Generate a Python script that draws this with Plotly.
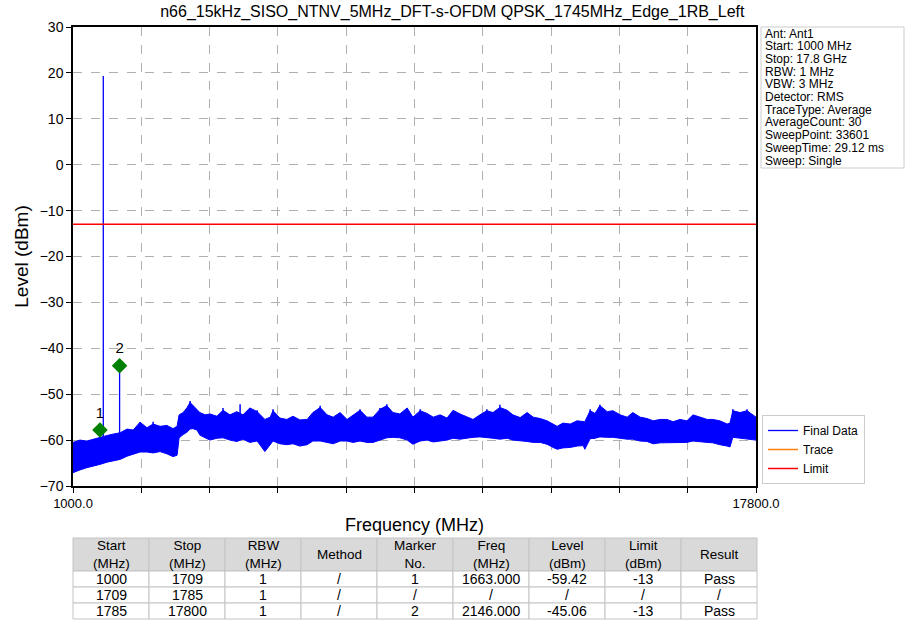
import plotly.graph_objects as go

# ---------------- data ----------------
TITLE = "n66_15kHz_SISO_NTNV_5MHz_DFT-s-OFDM QPSK_1745MHz_Edge_1RB_Left"

# noise floor envelope of the Final Data trace (MHz, dBm)
band_freq = [1000, 1170, 1340, 1490, 1660, 1840, 1980, 2160, 2330, 2480, 2650, 2820, 2970,
             3140, 3310, 3460, 3560, 3610, 3710, 3800, 3880, 3950, 4050, 4120, 4250, 4370,
             4540, 4690, 4860, 5030, 5180, 5350, 5530, 5720, 5850, 5920, 6090, 6260, 6410,
             6580, 6760, 6900, 7080, 7250, 7400, 7570, 7740, 7890, 8060, 8230, 8380, 8550,
             8720, 8870, 9040, 9220, 9360, 9540, 9710, 9860, 10030, 10200, 10350, 10520,
             10690, 10840, 11010, 11180, 11330, 11500, 11680, 11820, 12000, 12170, 12320,
             12490, 12660, 12810, 12910, 13050, 13230, 13400, 13550, 13590, 13720, 13840,
             13960, 14140, 14280, 14460, 14630, 14770, 14950, 15120, 15270, 15440, 15610,
             15760, 15930, 16100, 16250, 16420, 16600, 16740, 16910, 17090, 17160, 17230,
             17410, 17580, 17800]
band_upper = [-60.5, -60.0, -60.2, -59.8, -59.5, -59.0, -58.7, -58.4, -57.6, -57.8, -56.1,
              -57.3, -56.5, -57.0, -56.8, -57.5, -57.0, -54.5, -54.0, -53.0, -51.8, -52.5,
              -53.5, -54.0, -54.5, -54.3, -54.8, -53.5, -54.5, -53.8, -54.5, -53.0, -53.8,
              -55.5, -55.0, -53.6, -55.2, -55.5, -54.8, -55.6, -55.5, -54.0, -52.9, -54.5,
              -55.0, -54.0, -55.5, -54.5, -53.5, -55.0, -55.0, -53.3, -52.5, -54.0, -54.3,
              -53.0, -55.0, -53.6, -54.2, -55.0, -54.5, -55.2, -53.5, -54.3, -55.0, -55.5,
              -54.5, -53.6, -54.0, -52.9, -53.5, -54.5, -55.1, -54.0, -55.0, -55.3, -55.8,
              -56.5, -57.0, -56.3, -56.5, -55.8, -56.0, -56.0, -53.6, -54.2, -52.5, -53.8,
              -53.6, -54.5, -55.0, -54.0, -55.0, -55.3, -55.8, -55.5, -55.5, -56.0, -55.5,
              -55.8, -54.5, -55.0, -55.5, -55.5, -55.8, -56.5, -56.3, -53.6, -54.0, -53.6,
              -55.0]
band_lower = [-67.1, -66.5, -66.0, -65.6, -65.3, -64.8, -64.5, -64.2, -63.5, -63.0, -62.6,
              -62.6, -62.8, -62.5, -63.0, -63.6, -63.3, -59.5, -58.8, -58.3, -57.6, -57.5,
              -57.8, -58.9, -59.5, -60.0, -59.6, -59.5, -60.0, -60.3, -59.8, -60.5, -60.2,
              -62.5, -61.0, -60.2, -60.8, -61.0, -60.8, -61.3, -61.0, -60.2, -60.2, -60.5,
              -60.8, -60.2, -60.2, -60.5, -60.2, -60.5, -60.5, -60.0, -59.5, -59.4, -59.5,
              -60.0, -60.9, -60.2, -60.0, -60.4, -60.2, -60.0, -59.6, -59.8, -59.6, -59.4,
              -59.3, -59.5, -59.6, -59.8, -59.6, -60.0, -60.2, -60.3, -60.5, -60.5, -60.9,
              -61.6, -62.0, -61.7, -61.6, -61.3, -61.2, -62.0, -59.7, -59.6, -59.3, -59.4,
              -59.4, -59.6, -59.8, -59.8, -60.2, -60.3, -60.8, -60.6, -60.5, -60.6, -60.5,
              -60.5, -60.2, -60.3, -60.5, -60.6, -61.0, -61.3, -61.5, -59.4, -59.7, -59.8,
              -60.0]

# short noise spikes sticking out of the floor (MHz, top dBm)
noise_spike_freq = [2650, 2970, 3880, 4690, 5110, 5350, 5530, 5920, 7080, 8060, 8550, 8720,
                    9540, 11180, 11500, 13720, 13960, 17230, 17580]
noise_spike_top = [-56.1, -56.0, -51.5, -53.0, -52.2, -53.0, -53.5, -53.3, -52.5, -53.3,
                   -53.0, -52.2, -53.3, -53.3, -52.3, -53.3, -52.3, -53.3, -53.3]
noise_spike_base = [-59.0, -59.0, -56.0, -57.0, -57.0, -57.0, -57.0, -57.0, -57.0, -57.0,
                    -57.0, -57.0, -57.0, -57.0, -57.0, -57.0, -57.0, -57.0, -57.0]

# discrete spurs (MHz, base dBm, top dBm)
spur_freq = [1745, 2146]
spur_base = [-62.0, -61.0]
spur_top = [19.3, -43.8]

limit_freq = [1000, 17800]
limit_level = [-13, -13]

marker_no = ["1", "2"]
marker_freq = [1663, 2146]
marker_level = [-57.8, -43.8]

info_lines = ["Ant: Ant1", "Start: 1000 MHz", "Stop: 17.8 GHz", "RBW: 1 MHz", "VBW: 3 MHz",
              "Detector: RMS", "TraceType: Average", "AverageCount: 30", "SweepPoint: 33601",
              "SweepTime: 29.12 ms", "Sweep: Single"]

x_tick_vals = [1000, 2680, 4360, 6040, 7720, 9400, 11080, 12760, 14440, 16120, 17800]
x_tick_text = ["1000.0", "", "", "", "", "", "", "", "", "", "17800.0"]

tbl_header = ["Start<br>(MHz)", "Stop<br>(MHz)", "RBW<br>(MHz)", "Method", "Marker<br>No.",
              "Freq<br>(MHz)", "Level<br>(dBm)", "Limit<br>(dBm)", "Result"]
tbl_start = ["1000", "1709", "1785"]
tbl_stop = ["1709", "1785", "17800"]
tbl_rbw = ["1", "1", "1"]
tbl_method = ["/", "/", "/"]
tbl_marker = ["1", "/", "2"]
tbl_freq = ["1663.000", "/", "2146.000"]
tbl_level = ["-59.42", "/", "-45.06"]
tbl_limit = ["-13", "/", "-13"]
tbl_result = ["Pass", "/", "Pass"]

# ---------------- figure ----------------
W, H = 906, 624
ML, MR, MT, MB = 73, 150, 27, 4
PW, PH = W - ML - MR, H - MT - MB


def py(p):  # pixel row -> paper y
    return (H - MB - p) / PH


def px(p):  # pixel column -> paper x
    return (p - ML) / PW


FONT = "Liberation Sans, Arial, sans-serif"
fig = go.Figure()

# noise floor band
fig.add_trace(go.Scatter(
    x=band_freq + band_freq[::-1], y=band_upper + band_lower[::-1],
    fill="toself", fillcolor="#0000ff", mode="lines",
    line=dict(color="#0000ff", width=1), showlegend=False, hoverinfo="skip"))

nx, ny = [], []
for f, b, t in zip(noise_spike_freq, noise_spike_base, noise_spike_top):
    nx += [f, f, None]
    ny += [b, t, None]
fig.add_trace(go.Scatter(x=nx, y=ny, mode="lines", line=dict(color="#0000ff", width=1.5),
                         showlegend=False, hoverinfo="skip"))

# spurs (legend entry for Final Data)
sx, sy = [], []
for f, b, t in zip(spur_freq, spur_base, spur_top):
    sx += [f, f, None]
    sy += [b, t, None]
fig.add_trace(go.Scatter(x=sx, y=sy, mode="lines", name="Final Data",
                         line=dict(color="#0000ff", width=1.3)))

fig.add_trace(go.Scatter(x=[None], y=[None], mode="lines", name="Trace",
                         line=dict(color="#ff7f0e", width=1.5)))
fig.add_trace(go.Scatter(x=limit_freq, y=limit_level, mode="lines", name="Limit",
                         line=dict(color="#ff0000", width=1.5)))

fig.add_trace(go.Scatter(x=marker_freq, y=marker_level, mode="markers+text",
                         text=marker_no, textposition="top center",
                         textfont=dict(size=15, color="black", family=FONT),
                         marker=dict(symbol="diamond", size=12, color="#008000"),
                         showlegend=False))

grid = dict(showgrid=True, gridcolor="#b0b0b0", griddash="dash", gridwidth=1)
fig.update_layout(
    width=W, height=H, margin=dict(l=ML, r=MR, t=MT, b=MB, autoexpand=False),
    paper_bgcolor="white", plot_bgcolor="white",
    font=dict(family=FONT, color="black"),
    title=dict(text=TITLE, x=px(414), xanchor="center", y=1 - 11 / H, yanchor="middle",
               font=dict(size=16)),
    xaxis=dict(range=[1000, 17800], tickvals=x_tick_vals, ticktext=x_tick_text,
               ticks="outside", ticklen=5, tickcolor="black", showline=True, mirror=True,
               linecolor="black", linewidth=1.5, zeroline=False,
               tickfont=dict(size=13), title=dict(text="Frequency (MHz)", font=dict(size=18),
                                                   standoff=8), **grid),
    yaxis=dict(range=[-70, 30], dtick=10, domain=[py(486), 1], ticks="outside", ticklen=5,
               tickcolor="black", showline=True, mirror=True, linecolor="black",
               linewidth=1.5, zeroline=False, tickfont=dict(size=14),
               title=dict(text="Level (dBm)", font=dict(size=19), standoff=6), **grid),
    legend=dict(x=px(762), y=py(484), xanchor="left", yanchor="bottom",
                bgcolor="white", bordercolor="#cccccc", borderwidth=1,
                font=dict(size=12), itemwidth=30, tracegroupgap=0),
    showlegend=True,
)

# info box
fig.add_shape(type="rect", xref="paper", yref="paper", x0=px(761), x1=px(904),
              y0=py(168), y1=py(27), line=dict(color="#cccccc", width=1), fillcolor="white")
for i, t in enumerate(info_lines):
    fig.add_annotation(text=t, xref="paper", yref="paper", x=px(763), y=py(33.5 + i * 12.7),
                       xanchor="left", yanchor="middle", showarrow=False,
                       font=dict(size=12, family=FONT, color="black"))

# results table
T_LEFT, T_RIGHT = 73, 757
HDR_TOP, HDR_BOT = 538, 571
ROW_H = 16
cols = [tbl_start, tbl_stop, tbl_rbw, tbl_method, tbl_marker, tbl_freq, tbl_level,
        tbl_limit, tbl_result]
ncol = len(cols)
cw = (T_RIGHT - T_LEFT) / ncol
for j, (hdr, col) in enumerate(zip(tbl_header, cols)):
    x0 = T_LEFT + j * cw
    x1 = x0 + cw
    fig.add_shape(type="rect", xref="paper", yref="paper", x0=px(x0), x1=px(x1),
                  y0=py(HDR_BOT), y1=py(HDR_TOP), fillcolor="#d9d9d9",
                  line=dict(color="#c4c4c4", width=1), layer="above")
    fig.add_annotation(text=hdr, xref="paper", yref="paper", x=px((x0 + x1) / 2),
                       y=py((HDR_TOP + HDR_BOT) / 2), xanchor="center", yanchor="middle",
                       showarrow=False, font=dict(size=13.5, family=FONT, color="black"))
    for i, v in enumerate(col):
        r0 = HDR_BOT + i * ROW_H
        fig.add_shape(type="rect", xref="paper", yref="paper", x0=px(x0), x1=px(x1),
                      y0=py(r0 + ROW_H), y1=py(r0), fillcolor="white",
                      line=dict(color="#c4c4c4", width=1), layer="above")
        fig.add_annotation(text=v, xref="paper", yref="paper", x=px((x0 + x1) / 2),
                           y=py(r0 + ROW_H / 2), xanchor="center", yanchor="middle",
                           showarrow=False, font=dict(size=14, family=FONT, color="black"))

fig.write_html("out.html", config={"displayModeBar": False},
               post_script="document.body.style.margin='0';")
